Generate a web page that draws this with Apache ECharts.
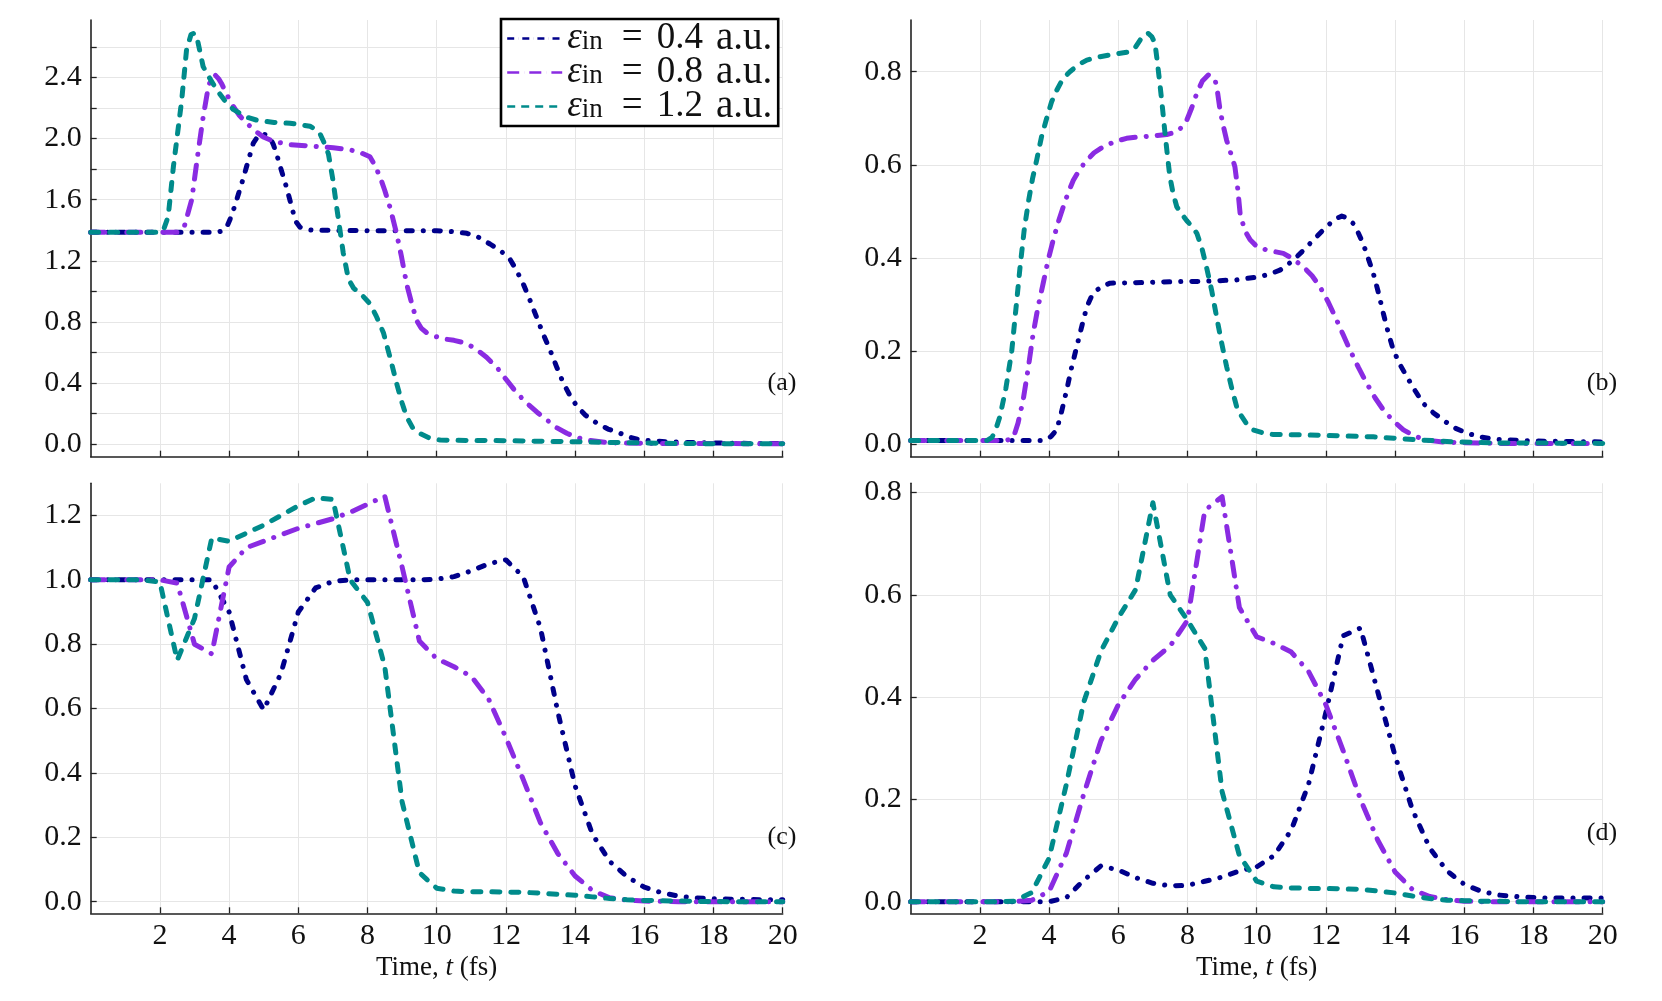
<!DOCTYPE html>
<html><head><meta charset="utf-8">
<script src="https://cdn.jsdelivr.net/npm/echarts@6/dist/echarts.min.js"></script>
<style>html,body{margin:0;padding:0;background:#fff}#c{width:1662px;height:1001px}</style>
</head><body><div id="c"></div>
<script>
// ---------- DATA ----------
const fieldLabels = ['0.4', '0.8', '1.2'];
const panelLabels = ['(a)', '(b)', '(c)', '(d)'];
const xTicks = [2, 4, 6, 8, 10, 12, 14, 16, 18, 20];
const yTicksA = [0, 0.2, 0.4, 0.6, 0.8, 1.0, 1.2, 1.4, 1.6, 1.8, 2.0, 2.2, 2.4, 2.6];
const yLabelsA = [0, 0.4, 0.8, 1.2, 1.6, 2.0, 2.4];
const yTicksB = [0, 0.2, 0.4, 0.6, 0.8];
const yTicksC = [0, 0.2, 0.4, 0.6, 0.8, 1.0, 1.2];
const yTicksD = [0, 0.2, 0.4, 0.6, 0.8];

// panel (a): [t, value]
const a04 = [[0,1.387],[3.64,1.387],[3.8,1.395],[3.93,1.42],[4.08,1.50],[4.22,1.60],[4.37,1.71],[4.51,1.82],[4.7,1.97],[4.85,2.02],[4.94,2.03],[5.05,2.025],[5.18,2.01],[5.28,1.96],[5.37,1.90],[5.5,1.80],[5.66,1.68],[5.86,1.51],[5.95,1.45],[6.05,1.42],[6.25,1.405],[6.43,1.40],[8,1.397],[9,1.397],[10,1.397],[10.5,1.39],[10.87,1.38],[11.2,1.355],[11.54,1.31],[11.85,1.265],[12.12,1.21],[12.3,1.14],[12.5,1.05],[12.7,0.94],[12.89,0.83],[13.08,0.72],[13.27,0.62],[13.46,0.51],[13.66,0.40],[13.85,0.32],[14.05,0.25],[14.3,0.19],[14.62,0.14],[14.95,0.10],[15.3,0.072],[15.6,0.045],[15.88,0.028],[16.6,0.017],[17.6,0.01],[19,0.006],[20,0.005]];
const a08 = [[0,1.387],[2.5,1.387],[2.7,1.42],[2.92,1.60],[3.11,1.92],[3.25,2.14],[3.4,2.34],[3.52,2.41],[3.6,2.415],[3.7,2.39],[3.78,2.36],[3.95,2.28],[4.12,2.21],[4.3,2.15],[4.51,2.10],[4.75,2.05],[4.99,2.01],[5.3,1.98],[5.76,1.96],[6.4,1.95],[7.01,1.94],[7.5,1.925],[7.78,1.91],[8.07,1.88],[8.2,1.83],[8.36,1.75],[8.5,1.66],[8.65,1.55],[8.84,1.38],[8.98,1.23],[9.13,1.05],[9.28,0.92],[9.42,0.81],[9.55,0.76],[9.71,0.73],[9.9,0.71],[10.19,0.69],[10.5,0.68],[10.87,0.66],[11.15,0.62],[11.44,0.57],[11.75,0.50],[12.02,0.42],[12.3,0.34],[12.6,0.27],[12.9,0.21],[13.18,0.16],[13.46,0.11],[13.76,0.072],[14.05,0.045],[14.33,0.028],[15,0.01],[16,0.006],[20,0.004]];
const a12 = [[0,1.387],[2.0,1.387],[2.1,1.40],[2.24,1.49],[2.39,1.815],[2.63,2.25],[2.77,2.58],[2.9,2.68],[3.0,2.69],[3.1,2.63],[3.25,2.47],[3.45,2.39],[3.64,2.32],[3.9,2.24],[4.12,2.19],[4.5,2.14],[4.8,2.12],[5.3,2.105],[5.76,2.10],[6.34,2.08],[6.5,2.06],[6.63,2.03],[6.75,1.97],[6.87,1.90],[7.0,1.73],[7.11,1.55],[7.3,1.25],[7.45,1.08],[7.6,1.02],[7.78,0.99],[8.07,0.92],[8.25,0.84],[8.46,0.73],[8.65,0.57],[8.84,0.40],[9.0,0.27],[9.13,0.18],[9.3,0.11],[9.52,0.07],[9.8,0.04],[10.1,0.028],[11,0.025],[12,0.024],[13,0.02],[14,0.017],[15,0.012],[15.7,0.01],[17,0.005],[20,0.003]];

// panel (b): [t, value]
const b04 = [[0,0.008],[3.8,0.008],[3.93,0.01],[4.07,0.018],[4.22,0.031],[4.36,0.07],[4.51,0.117],[4.65,0.165],[4.8,0.21],[4.95,0.255],[5.09,0.295],[5.24,0.32],[5.38,0.331],[5.55,0.34],[5.76,0.346],[6.5,0.347],[7.5,0.349],[8.5,0.35],[9.42,0.353],[10.1,0.36],[10.4,0.366],[10.67,0.374],[10.9,0.386],[11.16,0.403],[11.4,0.42],[11.64,0.439],[11.88,0.457],[12.12,0.474],[12.3,0.485],[12.46,0.49],[12.62,0.486],[12.79,0.474],[12.93,0.455],[13.08,0.43],[13.22,0.40],[13.37,0.367],[13.52,0.325],[13.66,0.281],[13.8,0.24],[13.95,0.202],[14.15,0.17],[14.34,0.145],[14.58,0.115],[14.81,0.088],[15.1,0.068],[15.39,0.052],[15.7,0.036],[16.07,0.024],[16.45,0.016],[16.84,0.011],[18,0.007],[20,0.005]];
const b08 = [[0,0.008],[2.7,0.008],[2.85,0.01],[2.97,0.015],[3.1,0.045],[3.25,0.095],[3.4,0.165],[3.54,0.238],[3.68,0.295],[3.83,0.346],[3.97,0.395],[4.12,0.439],[4.26,0.476],[4.41,0.51],[4.55,0.54],[4.7,0.567],[4.9,0.592],[5.09,0.61],[5.3,0.626],[5.57,0.639],[5.9,0.65],[6.24,0.657],[6.6,0.66],[7.01,0.662],[7.4,0.665],[7.69,0.671],[7.85,0.682],[7.98,0.696],[8.12,0.722],[8.27,0.754],[8.43,0.78],[8.6,0.793],[8.72,0.79],[8.8,0.782],[8.87,0.755],[8.94,0.718],[9.03,0.685],[9.13,0.653],[9.25,0.625],[9.37,0.596],[9.45,0.55],[9.52,0.496],[9.65,0.46],[9.81,0.439],[10.0,0.425],[10.29,0.417],[10.77,0.41],[11.05,0.398],[11.35,0.381],[11.6,0.362],[11.83,0.338],[12.07,0.305],[12.31,0.267],[12.5,0.235],[12.7,0.202],[12.94,0.165],[13.18,0.131],[13.42,0.10],[13.66,0.074],[13.95,0.05],[14.24,0.031],[14.55,0.018],[14.91,0.009],[15.5,0.004],[17,0.002],[20,0.002]];
const b12 = [[0,0.008],[2.2,0.008],[2.35,0.015],[2.45,0.03],[2.58,0.06],[2.75,0.12],[2.92,0.20],[3.04,0.29],[3.16,0.38],[3.28,0.46],[3.40,0.52],[3.52,0.57],[3.64,0.61],[3.78,0.66],[3.93,0.70],[4.07,0.735],[4.22,0.76],[4.4,0.785],[4.6,0.80],[4.85,0.815],[5.09,0.825],[5.4,0.831],[5.76,0.836],[6.1,0.84],[6.34,0.843],[6.5,0.853],[6.63,0.868],[6.75,0.88],[6.87,0.882],[6.97,0.875],[7.06,0.861],[7.13,0.82],[7.2,0.775],[7.28,0.72],[7.35,0.668],[7.42,0.62],[7.49,0.575],[7.58,0.54],[7.69,0.51],[7.83,0.495],[7.98,0.48],[8.13,0.468],[8.27,0.453],[8.42,0.42],[8.55,0.38],[8.7,0.33],[8.84,0.274],[8.98,0.22],[9.13,0.167],[9.28,0.12],[9.42,0.081],[9.52,0.065],[9.7,0.045],[9.9,0.031],[10.2,0.024],[10.48,0.021],[11.5,0.02],[12.5,0.018],[13.37,0.016],[14,0.013],[14.8,0.009],[15.8,0.005],[17,0.003],[20,0.002]];

// panels (c), (d): common time grid
const tCD = [0,0.5,1,1.5,2,2.5,3,3.5,4,4.5,5,5.5,6,6.5,7,7.5,8,8.5,9,9.5,10,10.5,11,11.5,12,12.5,13,13.5,14,14.5,15,15.5,16,16.5,17,17.5,18,18.5,19,19.5,20];
const c04 = [1,1,1,1,1,1,1,1,0.90,0.69,0.596,0.71,0.90,0.975,0.995,1.0,1.0,1.0,1.0,1.0,1.002,1.01,1.028,1.05,1.062,1.01,0.85,0.59,0.36,0.21,0.125,0.078,0.045,0.028,0.017,0.012,0.009,0.008,0.007,0.006,0.006];
const c08 = [1,1,1,1,1,0.99,0.80,0.77,1.04,1.10,1.12,1.14,1.16,1.175,1.19,1.21,1.235,1.26,1.04,0.81,0.755,0.73,0.70,0.63,0.51,0.38,0.245,0.15,0.08,0.035,0.012,0.005,0.002,0.001,0,0,0,0,0,0,0];
const c12 = [1,1,1,1,0.993,0.75,0.88,1.13,1.12,1.145,1.17,1.20,1.23,1.255,1.25,1.0,0.93,0.73,0.31,0.09,0.042,0.033,0.031,0.031,0.03,0.029,0.027,0.023,0.02,0.015,0.01,0.006,0.004,0.003,0.002,0.001,0.001,0,0,0,0];
const d04 = [0,0,0,0,0,0,0,0,0,0.008,0.042,0.07,0.062,0.047,0.036,0.031,0.032,0.04,0.048,0.06,0.068,0.09,0.14,0.23,0.37,0.52,0.535,0.41,0.285,0.18,0.105,0.06,0.034,0.02,0.013,0.01,0.008,0.007,0.007,0.007,0.007];
const d08 = [0,0,0,0,0,0,0,0.003,0.02,0.095,0.21,0.315,0.385,0.435,0.472,0.50,0.55,0.765,0.792,0.575,0.518,0.505,0.488,0.45,0.385,0.295,0.20,0.12,0.058,0.024,0.01,0.004,0.001,0,0,0,0,0,0,0,0];
const d12 = [0,0,0,0,0,0,0.001,0.018,0.085,0.23,0.39,0.49,0.555,0.61,0.78,0.60,0.55,0.495,0.215,0.09,0.04,0.029,0.027,0.026,0.026,0.025,0.024,0.021,0.017,0.011,0.006,0.003,0.002,0.001,0.001,0,0,0,0,0,0];

// ---------- CHART ----------
const FONT = '"Liberation Serif", "DejaVu Serif", serif';
const colors = ['#00008B', '#8A2BE2', '#008B8B'];
const dashes = [[6, 11, 0.1, 11], [14, 11, 0.1, 11], [8, 11]];
const legendDashes = [[7, 4, 0.1, 4], [12, 5, 0.1, 5], [8, 6]];
const pair = (arr) => tCD.map((t, i) => [t, arr[i]]);
const panelData = [
  [a04, a08, a12],
  [b04, b08, b12],
  [pair(c04), pair(c08), pair(c12)],
  [pair(d04), pair(d08), pair(d12)]
];
const yTickSets = [yTicksA, yTicksB, yTicksC, yTicksD];
const yLabelSets = [yLabelsA, yTicksB, yTicksC, yTicksD];
const yExtents = [[-0.081, 2.775], [-0.0266, 0.911], [-0.036, 1.30], [-0.0227, 0.818]];

const grids = [
  {left: 90.7, top: 20, width: 692, height: 436.7},
  {left: 910.7, top: 20, width: 692, height: 436.7},
  {left: 90.7, top: 483.3, width: 692, height: 430},
  {left: 910.7, top: 483.3, width: 692, height: 430}
];
const axisLineStyle = {color: '#222', width: 1.6};
const gridLineStyle = {color: '#e6e6e6', width: 1};

const xAxes = grids.map((g, i) => ({
  type: 'value', gridIndex: i, min: 0, max: 20,
  axisLine: {show: true, onZero: false, lineStyle: axisLineStyle},
  axisTick: {show: true, inside: true, length: 6, customValues: xTicks, lineStyle: {color: '#222', width: 1.3}},
  axisLabel: {show: i >= 2, customValues: xTicks, margin: 8, fontFamily: FONT, fontSize: 30, color: '#111'},
  splitLine: {show: true, lineStyle: gridLineStyle},
  name: i >= 2 ? '{n|Time, }{i|t}{n| (fs)}' : '',
  nameLocation: 'middle', nameGap: 41,
  nameTextStyle: {rich: {
    n: {fontFamily: FONT, fontSize: 27, color: '#111'},
    i: {fontFamily: FONT, fontSize: 27, fontStyle: 'italic', color: '#111'}
  }}
}));
const yAxes = grids.map((g, i) => ({
  type: 'value', gridIndex: i, min: yExtents[i][0], max: yExtents[i][1],
  axisLine: {show: true, onZero: false, lineStyle: axisLineStyle},
  axisTick: {show: true, inside: true, length: 6, customValues: yTickSets[i], lineStyle: {color: '#222', width: 1.3}},
  axisLabel: {show: true, customValues: yLabelSets[i], margin: 9, fontFamily: FONT, fontSize: 30, color: '#111',
    formatter: (v) => v.toFixed(1)},
  splitLine: {show: true, lineStyle: gridLineStyle}
}));

const series = [];
panelData.forEach((sets, p) => {
  sets.forEach((data, k) => {
    series.push({
      type: 'line', name: fieldLabels[k], xAxisIndex: p, yAxisIndex: p,
      data: data, showSymbol: false, symbol: 'none', smooth: false,
      lineStyle: {color: colors[k], width: 5, type: dashes[k], cap: 'round', join: 'round'},
      itemStyle: {color: colors[k]},
      z: 2 + k
    });
  });
});

const labelPos = [[782, 383], [1602, 383], [782, 836.7], [1602, 832.7]];
const graphic = panelLabels.map((s, i) => ({
  type: 'text', x: labelPos[i][0], y: labelPos[i][1], z: 10,
  style: {text: s, fill: '#111', font: '26px ' + FONT, align: 'center', verticalAlign: 'middle'}
}));

const chart = echarts.init(document.getElementById('c'), null, {renderer: 'canvas'});
chart.setOption({
  animation: false,
  backgroundColor: '#fff',
  grid: grids,
  xAxis: xAxes,
  yAxis: yAxes,
  series: series,
  graphic: graphic,
  legend: {
    data: fieldLabels.map((n, k) => ({name: n, lineStyle: {type: legendDashes[k], width: 2.4, cap: 'butt'}})),
    orient: 'vertical', left: 501, top: 19,
    backgroundColor: '#fff', borderColor: '#000', borderWidth: 2.6,
    padding: [0, 6, 0, 5], itemWidth: 55, itemHeight: 14, itemGap: -5,
    itemStyle: {opacity: 0},
    formatter: (name) => '{e|ε}{s|in}{q|=}{r|' + name + '}{u|a.u.}',
    textStyle: {fontFamily: FONT, color: '#111', lineHeight: 34, rich: {
      e: {fontFamily: FONT, fontSize: 37, fontStyle: 'italic', lineHeight: 34},
      s: {fontFamily: FONT, fontSize: 27, lineHeight: 18, verticalAlign: 'bottom'},
      q: {fontFamily: FONT, fontSize: 37, lineHeight: 34, padding: [0, 14, 0, 19]},
      r: {fontFamily: FONT, fontSize: 37, lineHeight: 34},
      u: {fontFamily: FONT, fontSize: 39, lineHeight: 34, padding: [0, 0, 0, 13]}
    }}
  }
});
</script></body></html>
